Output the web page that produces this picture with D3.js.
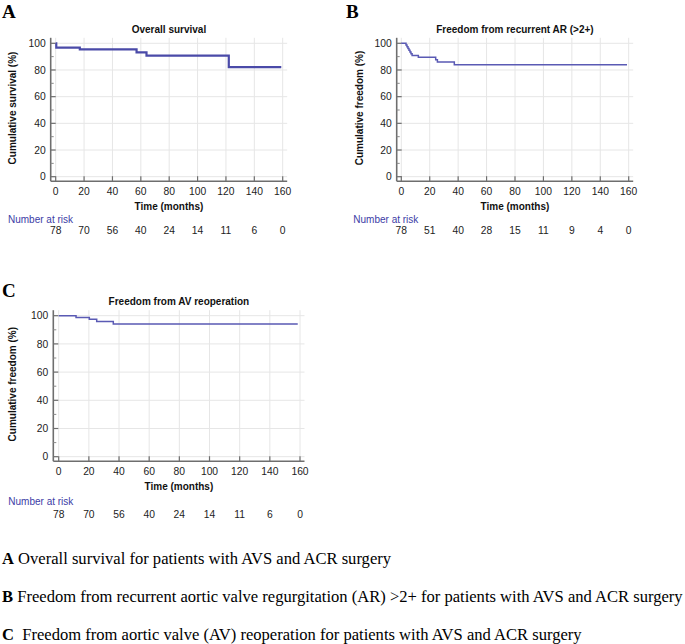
<!DOCTYPE html>
<html><head><meta charset="utf-8">
<script src="https://cdn.jsdelivr.net/npm/d3@7"></script>
<style>
html,body{margin:0;padding:0;background:#fff;}
svg{display:block;}
</style></head>
<body>
<svg id="chart" width="685" height="644"></svg>
<script>
// ---- data ----
const xTicks = [0, 20, 40, 60, 80, 100, 120, 140, 160];
const yTicks = [0, 20, 40, 60, 80, 100];
const yMinorTicks = [10, 30, 50, 70, 90];

const timesA = [0, 0.4, 17, 57, 64, 122, 159];
const valuesA = [100, 96.7, 95.4, 93.2, 90.7, 82.2, 82.2];
const riskA = [78, 70, 56, 40, 24, 14, 11, 6, 0];

const timesB = [0, 3.3, 4, 4.7, 5.4, 6.1, 6.8, 7.6, 12, 24.2, 25.4, 37.3, 158.8];
const valuesB = [100, 98.7, 97.4, 96.1, 94.8, 93.5, 92.2, 90.8, 89.5, 87.6, 85.9, 83.9, 83.9];
const riskB = [78, 51, 40, 28, 15, 11, 9, 4, 0];

const timesC = [0, 11.5, 20.3, 25.2, 36.2, 158.5];
const valuesC = [100, 98.7, 97.4, 95.9, 94.1, 94.1];
const riskC = [78, 70, 56, 40, 24, 14, 11, 6, 0];

const titles = ["Overall survival", "Freedom from recurrent AR (>2+)", "Freedom from AV reoperation"];
const yLabels = ["Cumulative survival (%)", "Cumulative freedom (%)", "Cumulative freedom (%)"];
const panelLetters = ["A", "B", "C"];
const captions = [
  ["A", " Overall survival for patients with AVS and ACR surgery"],
  ["B", " Freedom from recurrent aortic valve regurgitation (AR) >2+ for patients with AVS and ACR surgery"],
  ["C", "  Freedom from aortic valve (AV) reoperation for patients with AVS and ACR surgery"]
];

// ---- layout ----
const layout = [
  {axX: 50.7, x0: 55.7, x1: 282.7, y100: 43.3, y0: 176.7, tickLblY: 194.5, xLblY: 209.6, riskLblY: 222.6, riskNumY: 234.4, riskLblX: 8, yLblX: 12.7, letterX: 2, letterY: 17.5, lw: 2.2, color: "#4a4aa8"},
  {axX: 396.7, x0: 401.3, x1: 628.7, y100: 43.3, y0: 176.7, tickLblY: 194.5, xLblY: 209.6, riskLblY: 222.6, riskNumY: 234.4, riskLblX: 353.3, yLblX: 359, letterX: 346, letterY: 17.5, lw: 1.5, color: "#5a5ab4"},
  {axX: 53.3, x0: 58.7, x1: 300, y100: 315.7, y0: 456.7, tickLblY: 475.2, xLblY: 490.3, riskLblY: 505.3, riskNumY: 518, riskLblX: 8.3, yLblX: 12.7, letterX: 2, letterY: 297, lw: 1.5, color: "#5a5ab4"}
];

const series = [
  {t: timesA, v: valuesA, risk: riskA},
  {t: timesB, v: valuesB, risk: riskB},
  {t: timesC, v: valuesC, risk: riskC}
];

const svg = d3.select("#chart");
const sans = "Arial, 'Liberation Sans', sans-serif";
const serif = "'Times New Roman', 'Liberation Serif', serif";

series.forEach((s, i) => {
  const L = layout[i];
  const x = d3.scaleLinear().domain([0, 160]).range([L.x0, L.x1]);
  const y = d3.scaleLinear().domain([0, 100]).range([L.y0, L.y100]);
  const axisY = L.y0 + 4.5;
  const right = L.x1 + 4.5;
  const top = L.y100 - 5.5;
  const g = svg.append("g");

  // panel letter
  g.append("text").attr("x", L.letterX).attr("y", L.letterY)
    .attr("font-family", serif).attr("font-weight", "bold").attr("font-size", 19)
    .attr("fill", "#000").text(panelLetters[i]);

  // grid
  g.selectAll(".vg").data(xTicks).enter().append("line")
    .attr("x1", d => x(d)).attr("x2", d => x(d)).attr("y1", top).attr("y2", axisY)
    .attr("stroke", "#e6e6e6").attr("stroke-width", 1);
  g.selectAll(".hg").data(yTicks).enter().append("line")
    .attr("x1", L.axX).attr("x2", right).attr("y1", d => y(d)).attr("y2", d => y(d))
    .attr("stroke", "#e6e6e6").attr("stroke-width", 1);

  // axes lines
  g.append("line").attr("x1", L.axX).attr("x2", L.axX).attr("y1", top).attr("y2", axisY)
    .attr("stroke", "#6e6e6e").attr("stroke-width", 1.6);
  g.append("line").attr("x1", L.axX).attr("x2", right).attr("y1", axisY).attr("y2", axisY)
    .attr("stroke", "#6e6e6e").attr("stroke-width", 1.6);

  // ticks (inward)
  g.selectAll(".yt").data(yTicks).enter().append("line")
    .attr("x1", L.axX).attr("x2", L.axX + 5).attr("y1", d => y(d)).attr("y2", d => y(d))
    .attr("stroke", "#6e6e6e").attr("stroke-width", 1.2);
  g.selectAll(".ymt").data(yMinorTicks).enter().append("line")
    .attr("x1", L.axX).attr("x2", L.axX + 3).attr("y1", d => y(d)).attr("y2", d => y(d))
    .attr("stroke", "#8a8a8a").attr("stroke-width", 1);
  g.selectAll(".xt").data(xTicks).enter().append("line")
    .attr("x1", d => x(d)).attr("x2", d => x(d)).attr("y1", axisY).attr("y2", axisY - 5)
    .attr("stroke", "#6e6e6e").attr("stroke-width", 1.2);

  // tick labels
  g.selectAll(".ytl").data(yTicks).enter().append("text")
    .attr("x", L.axX - 5).attr("y", d => y(d)).attr("dy", "0.35em")
    .attr("text-anchor", "end").attr("font-family", sans).attr("font-size", 10.3)
    .attr("fill", "#222").text(d => d);
  g.selectAll(".xtl").data(xTicks).enter().append("text")
    .attr("x", d => x(d)).attr("y", L.tickLblY)
    .attr("text-anchor", "middle").attr("font-family", sans).attr("font-size", 10.3)
    .attr("fill", "#222").text(d => d);

  // titles and labels
  const cx = (L.axX + right) / 2;
  g.append("text").attr("x", cx).attr("y", L.y100 - 10.5).attr("text-anchor", "middle")
    .attr("font-family", sans).attr("font-weight", "bold").attr("font-size", 10)
    .attr("fill", "#111").text(titles[i]);
  g.append("text").attr("x", cx).attr("y", L.xLblY).attr("text-anchor", "middle")
    .attr("font-family", sans).attr("font-weight", "bold").attr("font-size", 10)
    .attr("fill", "#111").text("Time (months)");
  const ymid = (top + axisY) / 2 - 1.5;
  g.append("text").attr("transform", `translate(${L.yLblX},${ymid}) rotate(-90)`)
    .attr("dy", "0.35em").attr("text-anchor", "middle")
    .attr("font-family", sans).attr("font-weight", "bold").attr("font-size", 10)
    .attr("fill", "#111").text(yLabels[i]);

  // curve
  const pts = s.t.map((t, k) => [t, s.v[k]]);
  const line = d3.line().x(d => x(d[0])).y(d => y(d[1])).curve(d3.curveStepAfter);
  g.append("path").attr("d", line(pts)).attr("fill", "none")
    .attr("stroke", L.color).attr("stroke-width", L.lw);

  // number at risk
  g.append("text").attr("x", L.riskLblX).attr("y", L.riskLblY)
    .attr("font-family", sans).attr("font-size", 10).attr("fill", "#3c3ca6")
    .text("Number at risk");
  g.selectAll(".risk").data(s.risk).enter().append("text")
    .attr("x", (d, k) => x(xTicks[k])).attr("y", L.riskNumY).attr("text-anchor", "middle")
    .attr("font-family", sans).attr("font-size", 10.3).attr("fill", "#222").text(d => d);
});

// captions
const capY = [564, 602, 640];
const capG = svg.append("g");
const capTexts = captions.map((c, i) => {
  const t = capG.append("text").attr("x", 2).attr("y", capY[i])
    .attr("font-family", serif).attr("font-size", 100).attr("fill", "#000")
    .attr("xml:space", "preserve").style("white-space", "pre");
  t.append("tspan").attr("font-weight", "bold").text(c[0]);
  t.append("tspan").text(c[1]);
  return t;
});
// fit font size so the longest caption spans the figure width
const wB = capTexts[1].node().getComputedTextLength();
const fs = 100 * 681 / wB;
capTexts.forEach(t => t.attr("font-size", fs));
</script>
</body></html>
